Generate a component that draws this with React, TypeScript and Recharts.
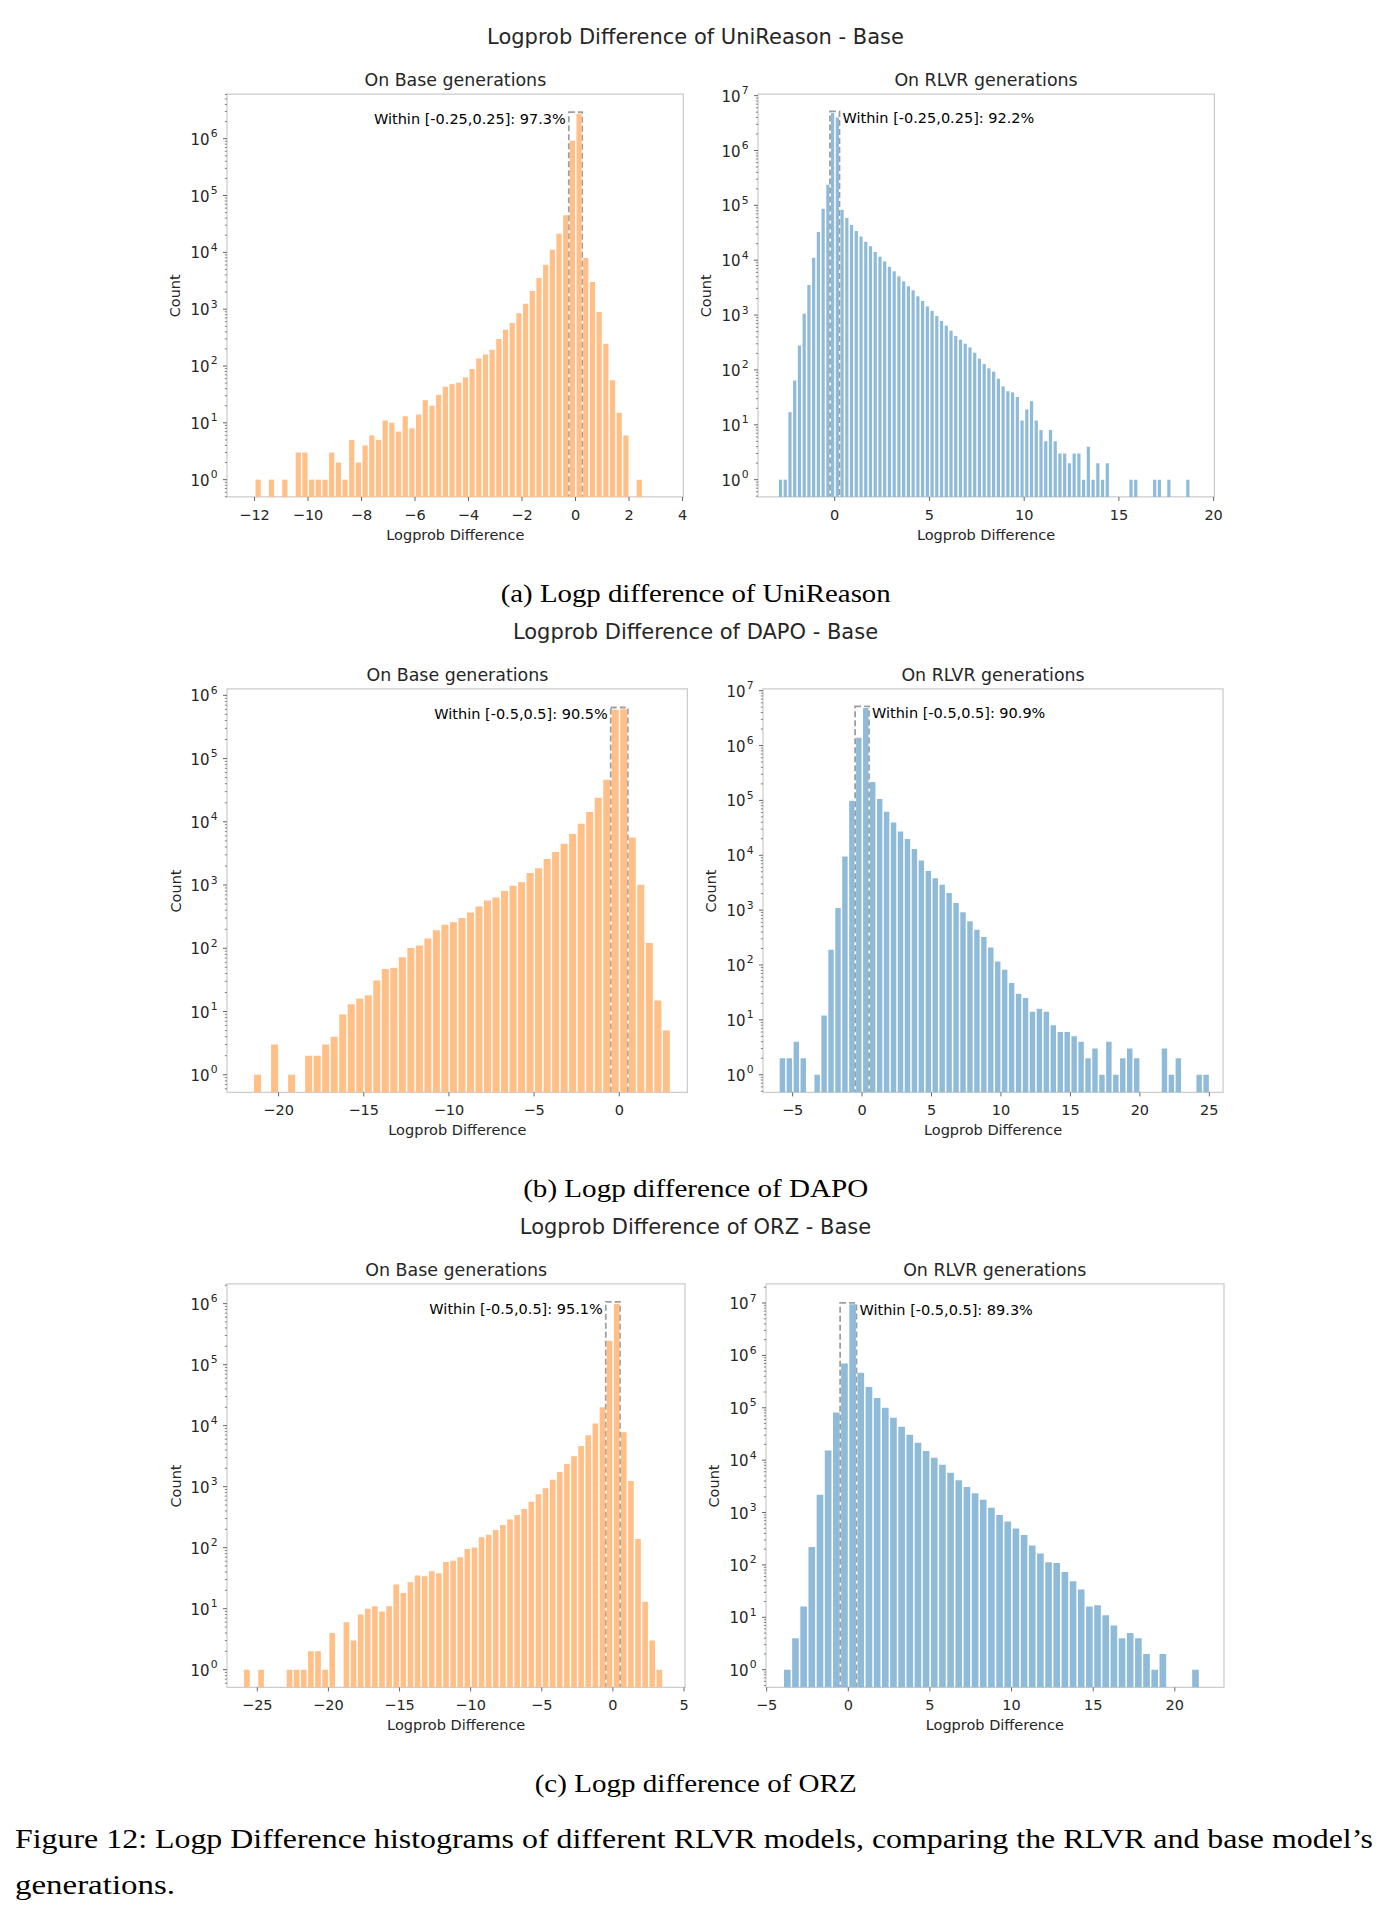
import React from "react";
import { BarChart, Bar, XAxis, YAxis, ReferenceArea } from "recharts";

// Histogram counts, one entry per bin (0 = empty bin). Bins are uniform: first edge + width.
const uniBaseStart = -12;
const uniBaseWidth = 0.25;
const uniBaseCounts = [
  1, 0, 1, 0, 1, 0, 3, 3, 1, 1, 1, 3, 2, 1, 5, 2, 4, 6, 5, 11, 10, 7, 13, 8, 14, 25, 20, 31, 43, 48,
  51, 63, 89, 136, 160, 194, 298, 436, 571, 845, 1250, 2090, 3540, 6070, 11100, 21300, 44800,
  923000, 2750000, 7950, 3000, 890, 247, 56, 15, 6, 0, 1,
];

const uniRlvrStart = -3;
const uniRlvrWidth = 0.25;
const uniRlvrCounts = [
  1, 1, 17, 64, 280, 1060, 3530, 11100, 32700, 86900, 238000, 4820000, 4000000, 83300, 58700,
  43700, 34000, 27200, 21800, 17900, 14100, 11600, 9530, 7620, 6270, 5080, 4120, 3340, 2830, 2200,
  1800, 1440, 1190, 961, 780, 641, 520, 415, 356, 301, 258, 206, 160, 128, 107, 93, 69, 50, 41, 39,
  32, 12, 19, 27, 12, 8, 5, 8, 5, 3, 3, 2, 3, 3, 1, 4, 1, 2, 1, 2, 0, 0, 0, 0, 1, 1, 0, 0, 0, 1, 1,
  0, 1, 0, 0, 0, 1,
];

const dapoBaseStart = -21.5;
const dapoBaseWidth = 0.5;
const dapoBaseCounts = [
  1, 0, 3, 0, 1, 0, 2, 2, 3, 4, 9, 13, 16, 18, 31, 47, 49, 72, 101, 111, 143, 192, 236, 257, 300,
  369, 459, 571, 637, 803, 975, 1110, 1550, 1850, 2570, 3320, 4500, 6390, 9310, 14300, 24000,
  46200, 590000, 600000, 5660, 1010, 121, 15, 5,
];

const dapoRlvrStart = -6;
const dapoRlvrWidth = 0.5;
const dapoRlvrCounts = [
  2, 2, 4, 2, 0, 1, 12, 190, 1090, 9530, 98600, 1390000, 4820000, 216000, 106000, 62100, 39700,
  27200, 19700, 13000, 8050, 5150, 3790, 2900, 2050, 1350, 910, 624, 440, 323, 209, 116, 82, 47,
  30, 25, 14, 16, 14, 8, 6, 6, 5, 4, 2, 3, 1, 4, 1, 2, 3, 2, 0, 0, 0, 3, 1, 2, 0, 0, 1, 1,
];

const orzBaseStart = -26;
const orzBaseWidth = 0.5;
const orzBaseCounts = [
  1, 0, 1, 0, 0, 0, 1, 1, 1, 2, 2, 1, 4, 0, 6, 3, 8, 10, 11, 9, 11, 25, 18, 27, 35, 34, 41, 38, 58,
  61, 70, 95, 101, 148, 163, 195, 235, 291, 343, 431, 568, 749, 939, 1300, 1740, 2350, 3140, 4640,
  6950, 10800, 20000, 247000, 1000000, 7780, 1240, 139, 13, 3, 1,
];

const orzRlvrStart = -4;
const orzRlvrWidth = 0.5;
const orzRlvrCounts = [
  1, 4, 16, 221, 2180, 15300, 81500, 703000, 9440000, 467000, 248000, 153000, 100000, 64400, 43300,
  30500, 21400, 14900, 11100, 8150, 5730, 4150, 3090, 2340, 1750, 1230, 902, 673, 495, 374, 234,
  165, 112, 109, 73, 49, 34, 16, 17, 11, 7, 4, 5, 4, 2, 1, 2, 0, 0, 0, 1,
];

// share of tokens inside the dashed window, per panel
const withinPct = [97.3, 92.2, 90.5, 90.9, 95.1, 89.3];
const withinHalf = [0.25, 0.25, 0.5, 0.5, 0.5, 0.5];

const models = ["UniReason", "DAPO", "ORZ"];
const captionLetters = ["a", "b", "c"];

const ORANGE = "#ffbf86";
const BLUE = "#8fbbd9";
const INK = "#262626";
const SANS = '"DejaVu Sans", sans-serif';
const SERIF = '"Liberation Serif", serif';

type PanelSpec = {
  left: number;
  top: number;
  w: number;
  h: number;
  xDomain: [number, number];
  xTicks: number[];
  yExp: [number, number];
  start: number;
  width: number;
  counts: number[];
  color: string;
  within: number;
  pct: number;
  side: "left" | "right";
  title: string;
};

const panels: PanelSpec[] = [
  {
    left: 227.2, top: 94.3, w: 456.3, h: 403, xDomain: [-13.03, 4.03],
    xTicks: [-12, -10, -8, -6, -4, -2, 0, 2, 4], yExp: [-0.305, 6.786],
    start: uniBaseStart, width: uniBaseWidth, counts: uniBaseCounts, color: ORANGE,
    within: withinHalf[0], pct: withinPct[0], side: "left", title: "On Base generations",
  },
  {
    left: 757.8, top: 94.3, w: 456.4, h: 403, xDomain: [-4.05, 20.04],
    xTicks: [0, 5, 10, 15, 20], yExp: [-0.316, 7.03],
    start: uniRlvrStart, width: uniRlvrWidth, counts: uniRlvrCounts, color: BLUE,
    within: withinHalf[1], pct: withinPct[1], side: "right", title: "On RLVR generations",
  },
  {
    left: 227.2, top: 689.3, w: 460.4, h: 403.4, xDomain: [-23.03, 4.0],
    xTicks: [-20, -15, -10, -5, 0], yExp: [-0.279, 6.1],
    start: dapoBaseStart, width: dapoBaseWidth, counts: dapoBaseCounts, color: ORANGE,
    within: withinHalf[2], pct: withinPct[2], side: "left", title: "On Base generations",
  },
  {
    left: 763, top: 689.3, w: 460.1, h: 403.4, xDomain: [-7.13, 25.99],
    xTicks: [-5, 0, 5, 10, 15, 20, 25], yExp: [-0.322, 7.03],
    start: dapoRlvrStart, width: dapoRlvrWidth, counts: dapoRlvrCounts, color: BLUE,
    within: withinHalf[3], pct: withinPct[3], side: "right", title: "On RLVR generations",
  },
  {
    left: 227.2, top: 1284.3, w: 458, h: 403.4, xDomain: [-27.13, 5.07],
    xTicks: [-25, -20, -15, -10, -5, 0, 5], yExp: [-0.29, 6.322],
    start: orzBaseStart, width: orzBaseWidth, counts: orzBaseCounts, color: ORANGE,
    within: withinHalf[4], pct: withinPct[4], side: "left", title: "On Base generations",
  },
  {
    left: 765.8, top: 1284.3, w: 458, h: 403.4, xDomain: [-5.04, 23.01],
    xTicks: [-5, 0, 5, 10, 15, 20], yExp: [-0.338, 7.363],
    start: orzRlvrStart, width: orzRlvrWidth, counts: orzRlvrCounts, color: BLUE,
    within: withinHalf[5], pct: withinPct[5], side: "right", title: "On RLVR generations",
  },
];

const toBins = (start: number, width: number, counts: number[]) =>
  counts
    .map((c, i) => ({ x: start + width * (i + 0.5), count: c }))
    .filter((d) => d.count > 0);

// major (10^n) and minor (m·10^n) ticks inside the log range
const logTicks = (lo: number, hi: number) => {
  const out: number[] = [];
  for (let e = Math.floor(Math.log10(lo)); e <= Math.ceil(Math.log10(hi)); e++) {
    for (let m = 1; m < 10; m++) {
      const v = m * Math.pow(10, e);
      if (v >= lo && v <= hi) out.push(v);
    }
  }
  return out;
};

const fmtX = (v: number) => (v < 0 ? `\u2212${Math.abs(v)}` : `${v}`);

const XTick = (props: any) => {
  const { x, y, payload } = props;
  return (
    <g>
      <line x1={x} x2={x} y1={y} y2={y + 4} stroke="#555" strokeWidth={0.9} />
      <text
        x={x}
        y={y + 17.7}
        textAnchor="middle"
        dominantBaseline="central"
        fontFamily={SANS}
        fontSize={14.5}
        fill={INK}
      >
        {fmtX(payload.value)}
      </text>
    </g>
  );
};

const YTick = (props: any) => {
  const { x, y, payload } = props;
  const v = payload.value as number;
  const e = Math.round(Math.log10(v));
  const major = Math.abs(v / Math.pow(10, e) - 1) < 1e-9;
  return (
    <g>
      <line
        x1={x - (major ? 4 : 2.2)}
        x2={x}
        y1={y}
        y2={y}
        stroke="#555"
        strokeWidth={major ? 0.9 : 0.7}
      />
      {major && (
        <text
          x={x - 9.5}
          y={y + 1}
          textAnchor="end"
          dominantBaseline="central"
          fontFamily={SANS}
          fontSize={15}
          fill={INK}
        >
          10
          <tspan dx={1} dy={-6.5} fontSize={10.8}>
            {e}
          </tspan>
        </text>
      )}
    </g>
  );
};

const WithinLabel = (props: any) => {
  const { viewBox, text, side } = props;
  if (!viewBox) return null;
  const { x, y, width } = viewBox;
  const tx = side === "left" ? x - 3 : x + width + 3;
  return (
    <text
      x={tx}
      y={y + 6.8}
      textAnchor={side === "left" ? "end" : "start"}
      dominantBaseline="central"
      fontFamily={SANS}
      fontSize={14.5}
      fill="#000"
    >
      {text}
    </text>
  );
};

const PAD_L = 90;
const PAD_T = 40;
const PAD_R = 20;
const PAD_B = 60;

function Panel({ p }: { p: PanelSpec }) {
  const data = toBins(p.start, p.width, p.counts);
  const yLo = Math.pow(10, p.yExp[0]);
  const yHi = Math.pow(10, p.yExp[1]);
  const binPx = (p.width * p.w) / (p.xDomain[1] - p.xDomain[0]);
  const peak = Math.max(...p.counts);
  const note = `Within [-${p.within},${p.within}]: ${p.pct}%`;

  return (
    <div style={{ position: "absolute", left: p.left - PAD_L, top: p.top - PAD_T }}>
      <BarChart
        width={p.w + PAD_L + PAD_R}
        height={p.h + PAD_T + PAD_B}
        data={data}
        margin={{ top: PAD_T, right: PAD_R, bottom: 0, left: 0 }}
      >
        <XAxis
          dataKey="x"
          type="number"
          domain={p.xDomain}
          allowDataOverflow
          ticks={p.xTicks}
          interval={0}
          tickLine={false}
          axisLine={false}
          tickSize={0}
          tickMargin={0}
          height={PAD_B}
          tick={<XTick />}
        />
        <YAxis
          type="number"
          scale="log"
          domain={[yLo, yHi]}
          allowDataOverflow
          ticks={logTicks(yLo, yHi)}
          interval={0}
          tickLine={false}
          axisLine={false}
          tickSize={0}
          tickMargin={0}
          width={PAD_L}
          tick={<YTick />}
        />
        <Bar
          dataKey="count"
          fill={p.color}
          barSize={binPx - 1.5}
          isAnimationActive={false}
        />
        <ReferenceArea
          x1={-p.within}
          x2={p.within}
          y1={yLo / 4}
          y2={peak * 1.07}
          fill="none"
          stroke="#9e9e9e"
          strokeWidth={1.8}
          strokeDasharray="6 3"
          ifOverflow="hidden"
          label={<WithinLabel text={note} side={p.side} />}
        />
        <ReferenceArea
          x1={p.xDomain[0]}
          x2={p.xDomain[1]}
          y1={yLo}
          y2={yHi}
          fill="none"
          stroke="#cccccc"
          strokeWidth={1.25}
          ifOverflow="visible"
        />
      </BarChart>
    </div>
  );
}

const ROW_STEP = 595;
const captionWidths = [390, 345, 322];

export default function App() {
  return (
    <div
      style={{
        position: "absolute",
        left: 0,
        top: 0,
        width: 1392,
        height: 1924,
        background: "#fff",
      }}
    >
      {panels.map((p, i) => (
        <Panel key={i} p={p} />
      ))}
      <svg
        width={1392}
        height={1924}
        style={{ position: "absolute", left: 0, top: 0, pointerEvents: "none" }}
      >
        {models.map((m, r) => (
          <g key={m}>
            <text
              x={695.5}
              y={36.7 + r * ROW_STEP}
              textAnchor="middle"
              dominantBaseline="central"
              fontFamily={SANS}
              fontSize={21}
              fill={INK}
            >
              {`Logprob Difference of ${m} - Base`}
            </text>
            <text
              x={695.7 - captionWidths[r] / 2}
              y={601.7 + r * ROW_STEP}
              fontFamily={SERIF}
              fontSize={25}
              fill="#000"
              textLength={captionWidths[r]}
              lengthAdjust="spacingAndGlyphs"
            >
              {`(${captionLetters[r]}) Logp difference of ${m}`}
            </text>
          </g>
        ))}
        {panels.map((p, i) => (
          <g key={i}>
            <text
              x={p.left + p.w / 2}
              y={p.top - 14.3}
              textAnchor="middle"
              dominantBaseline="central"
              fontFamily={SANS}
              fontSize={17.4}
              fill={INK}
            >
              {p.title}
            </text>
            <text
              x={p.left + p.w / 2}
              y={p.top + p.h + 37.7}
              textAnchor="middle"
              dominantBaseline="central"
              fontFamily={SANS}
              fontSize={14.5}
              fill={INK}
            >
              Logprob Difference
            </text>
            <text
              x={p.left - 51.7}
              y={p.top + p.h / 2}
              textAnchor="middle"
              dominantBaseline="central"
              fontFamily={SANS}
              fontSize={14.5}
              fill={INK}
              transform={`rotate(-90 ${p.left - 51.7} ${p.top + p.h / 2})`}
            >
              Count
            </text>
          </g>
        ))}
        <text
          x={15}
          y={1848}
          fontFamily={SERIF}
          fontSize={26.5}
          fill="#000"
          textLength={1358}
          lengthAdjust="spacingAndGlyphs"
        >
          Figure 12: Logp Difference histograms of different RLVR models, comparing the RLVR and base
          model’s
        </text>
        <text
          x={15}
          y={1894}
          fontFamily={SERIF}
          fontSize={26.5}
          fill="#000"
          textLength={160}
          lengthAdjust="spacingAndGlyphs"
        >
          generations.
        </text>
      </svg>
    </div>
  );
}
